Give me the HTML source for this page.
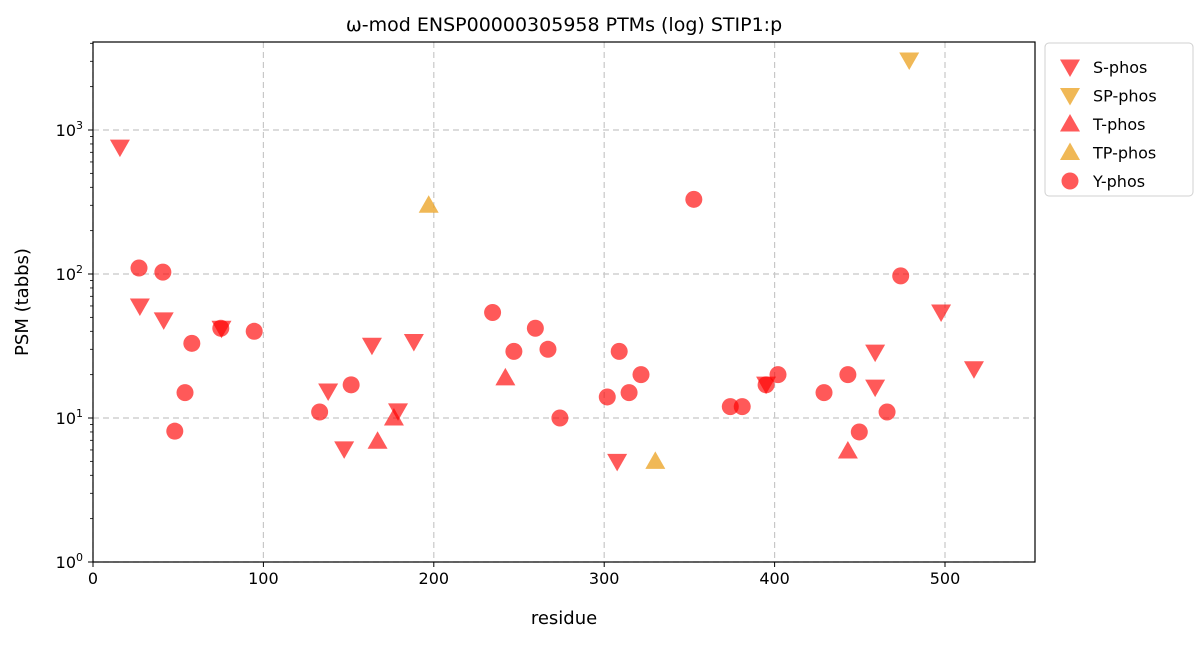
<!DOCTYPE html>
<html><head><meta charset="utf-8"><style>
body{margin:0;background:#fff;font-family:"Liberation Sans","DejaVu Sans",sans-serif;}
svg text{font-family:"DejaVu Sans","Liberation Sans",sans-serif;fill:#000;}
</style></head><body>
<svg id="chart" width="1200" height="641" xmlns="http://www.w3.org/2000/svg"></svg>
<script>
const xTicks=[0,100,200,300,400,500];
const yTickExps=[0,1,2,3];
const sPhosX=[15.8,27.5,41.5,75.4,138,147.4,163.7,179,188.3,307.6,395,459,459,497.7,517];
const sPhosY=[760,60,48,42,15.4,6.1,32,11.2,34,5,17.2,28.7,16.4,54.5,22];
const spPhosX=[479];
const spPhosY=[3060];
const tPhosX=[167,176.6,242,443];
const tPhosY=[6.9,10,19,5.9];
const tpPhosX=[197,330];
const tpPhosY=[300,5];
const yPhosX=[27,41,58,54,48,75,94.6,133,151.5,234.5,247,259.6,267,274,301.8,308.8,314.6,321.6,352.6,374,381,395,402,429,443,449.7,466,474];
const yPhosY=[110,103,33,15,8.1,42,40,11,17,54,29,42,30,10,14,29,15,20,330,12,12,17,20,15,20,8,11,97];

const NS="http://www.w3.org/2000/svg";
const svg=document.getElementById('chart');
const L=93,R=1035,T=42,B=562;
const X=v=>L+v*(945-93)/500;
const Y=v=>B-Math.log10(v)*144;
function mk(tag,attrs,parent){const e=document.createElementNS(NS,tag);for(const k in attrs)e.setAttribute(k,attrs[k]);(parent||svg).appendChild(e);return e;}
const RED='rgba(255,0,0,0.65)',ORG='rgba(235,160,30,0.75)';

// grid
xTicks.forEach(t=>{const l=mk('line',{x1:X(t),x2:X(t),y1:T,y2:B,stroke:'#c8c8c8','stroke-dasharray':'6,4','stroke-width':1.2});

});
yTickExps.forEach(e=>{const l=mk('line',{x1:L,x2:R,y1:Y(Math.pow(10,e)),y2:Y(Math.pow(10,e)),stroke:'#c8c8c8','stroke-dasharray':'6,4','stroke-width':1.2});

});

function tri(cx,cy,up,fill,name){
  const s=10;
  const pts=up?`${cx},${cy-s} ${cx-s},${cy+s*0.75} ${cx+s},${cy+s*0.75}`:`${cx},${cy+s} ${cx-s},${cy-s*0.75} ${cx+s},${cy-s*0.75}`;
  const p=mk('polygon',{points:pts,fill:fill});
  
  
}
sPhosX.forEach((x,i)=>tri(X(x),Y(sPhosY[i]),false,RED,'s-phos-point'));
spPhosX.forEach((x,i)=>tri(X(x),Y(spPhosY[i]),false,ORG,'sp-phos-point'));
tPhosX.forEach((x,i)=>tri(X(x),Y(tPhosY[i]),true,RED,'t-phos-point'));
tpPhosX.forEach((x,i)=>tri(X(x),Y(tpPhosY[i]),true,ORG,'tp-phos-point'));
yPhosX.forEach((x,i)=>{const c=mk('circle',{cx:X(x),cy:Y(yPhosY[i]),r:8.5,fill:RED});

});

// axes frame
const fr=mk('rect',{x:L,y:T,width:R-L,height:B-T,fill:'none',stroke:'#000','stroke-width':1.2});


xTicks.forEach(t=>{mk('line',{x1:X(t),x2:X(t),y1:B,y2:B+5,stroke:'#000'});
const tx=mk('text',{x:X(t),y:B+22,'text-anchor':'middle','font-size':16});tx.textContent=t;

});
yTickExps.forEach(e=>{const y=Y(Math.pow(10,e));mk('line',{x1:L-5,x2:L,y1:y,y2:y,stroke:'#000'});
const tx=mk('text',{x:L-10,y:y+6,'text-anchor':'end','font-size':16});tx.innerHTML='10<tspan dy="-7" font-size="11">'+e+'</tspan>';

});
for(let e=0;e<4;e++)for(let m=2;m<10;m++){const v=m*Math.pow(10,e);const y=Y(v);if(y<T)continue;mk('line',{x1:L-3,x2:L,y1:y,y2:y,stroke:'#000','stroke-width':0.8});}

let t=mk('text',{x:(L+R)/2,y:31,'text-anchor':'middle','font-size':19});t.textContent='ω-mod ENSP00000305958 PTMs (log) STIP1:p';


t=mk('text',{x:(L+R)/2,y:624,'text-anchor':'middle','font-size':18});t.textContent='residue';


t=mk('text',{x:28,y:(T+B)/2,'text-anchor':'middle','font-size':18,transform:`rotate(-90 28 ${(T+B)/2})`});t.textContent='PSM (tabbs)';



// legend
const lg=mk('rect',{x:1045,y:43,width:148,height:153,rx:4,fill:'#fff',stroke:'#d0d0d0'});


const entries=[['S-phos','down',RED],['SP-phos','down',ORG],['T-phos','up',RED],['TP-phos','up',ORG],['Y-phos','c',RED]];
entries.forEach((en,i)=>{const y=67+i*28.5;
 if(en[1]==='c'){mk('circle',{cx:1070,cy:y,r:8.5,fill:en[2]});}else tri(1070,y,en[1]==='up',en[2],'legend-marker');
 const tx=mk('text',{x:1093,y:y+6,'font-size':16});tx.textContent=en[0];
 
 });
</script>
</body></html>
